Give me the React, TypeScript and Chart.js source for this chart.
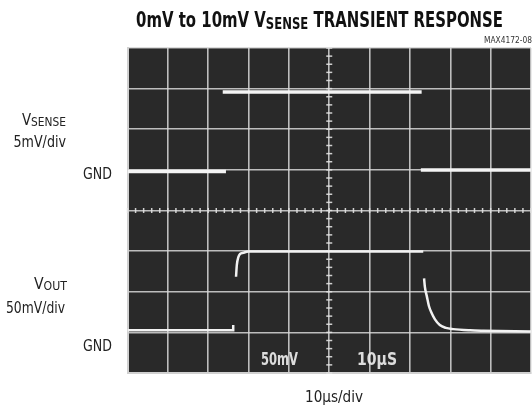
import React, { useEffect, useRef } from 'react';
import { Chart, registerables } from 'chart.js';

Chart.register(...registerables);

// ---- data (x in µs, y in screen divisions, centre = 0) ----
const xTicksUs = [0, 10, 20, 30, 40, 50, 60, 70, 80, 90, 100];
const yDivs = [-4, -3, -2, -1, 0, 1, 2, 3, 4];

const vsenseTime = [0, 24.4, 24.0, 23.6, 72.9, 72.8, 72.7, 100];
const vsenseValue = [0.96, 0.96, null, 2.92, 2.92, null, 1.0, 1.0];

const voutTime = [0, 26.2, 26.2, 26.5, 26.9, 27.1, 27.5, 27.9, 28.7, 30, 73.3, 73.4, 73.5, 73.7, 74.2, 74.7, 75.4, 76.2, 77.4, 78.9, 80.7, 84.9, 88.1, 100];
const voutValue = [-2.95, -2.95, -2.82, null, -1.63, -1.34, -1.14, -1.07, -1.04, -1.01, -1.01, null, -1.67, -1.88, -2.12, -2.35, -2.53, -2.68, -2.82, -2.89, -2.92, -2.95, -2.96, -2.98];

const titleParts = ['0mV to 10mV V', 'SENSE', ' TRANSIENT RESPONSE'];
const figureCode = 'MAX4172-08';
const vsenseLabel = ['V', 'SENSE'];
const vsenseScale = '5mV/div';
const voutLabel = ['V', 'OUT'];
const voutScale = '50mV/div';
const gndLabel = 'GND';
const timeLabel = '10µs/div';
const scopeTexts = ['50mV', '10µS'];

const FONT = "'DejaVu Sans Condensed', 'Liberation Sans', sans-serif";

function toPoints(xs: number[], ys: (number | null)[]) {
  return xs.map((x, i) => ({ x, y: ys[i] }));
}

type Part = { t: string; size: number; dy?: number };

// draws text runs horizontally fitted between left and right edges
function drawFitted(ctx: CanvasRenderingContext2D, parts: Part[], left: number, right: number, baseline: number, weight: string) {
  let total = 0;
  const widths: number[] = [];
  for (const p of parts) {
    ctx.font = `${weight} ${p.size}px ${FONT}`;
    const w = ctx.measureText(p.t).width;
    widths.push(w);
    total += w;
  }
  const k = (right - left) / total;
  ctx.save();
  ctx.translate(left, baseline);
  ctx.scale(k, 1);
  ctx.textAlign = 'left';
  ctx.textBaseline = 'alphabetic';
  let x = 0;
  parts.forEach((p, i) => {
    ctx.font = `${weight} ${p.size}px ${FONT}`;
    ctx.fillText(p.t, x, p.dy || 0);
    x += widths[i];
  });
  ctx.restore();
}

const scopePlugin = {
  id: 'scopeDecor',
  beforeDraw(chart: any) {
    const { ctx, chartArea: a } = chart;
    ctx.save();
    ctx.fillStyle = '#ffffff';
    ctx.fillRect(0, 0, chart.width, chart.height);
    ctx.fillStyle = '#292929';
    ctx.fillRect(a.left, a.top, a.right - a.left, a.bottom - a.top);
    ctx.restore();
  },
  beforeDatasetsDraw(chart: any) {
    const { ctx, scales } = chart;
    const xs = scales.x;
    const ys = scales.y;
    const x0 = xs.getPixelForValue(50);
    const y0 = ys.getPixelForValue(0);
    ctx.save();
    ctx.strokeStyle = 'rgba(225,225,225,0.9)';
    ctx.lineWidth = 1.5;
    for (let v = 0; v <= 100; v += 2) {
      const px = xs.getPixelForValue(v);
      ctx.beginPath();
      ctx.moveTo(px, y0 - 2.5);
      ctx.lineTo(px, y0 + 2.5);
      ctx.stroke();
    }
    for (let v = -4; v <= 4.001; v += 0.2) {
      const py = ys.getPixelForValue(v);
      ctx.beginPath();
      ctx.moveTo(x0 - 3, py);
      ctx.lineTo(x0 + 3, py);
      ctx.stroke();
    }
    ctx.restore();
  },
  afterDraw(chart: any) {
    const { ctx } = chart;
    ctx.save();
    ctx.fillStyle = '#111111';
    // title
    drawFitted(ctx, [{ t: titleParts[0], size: 20.5 }, { t: titleParts[1], size: 16, dy: 2 }, { t: titleParts[2], size: 20.5 }], 136, 503, 26.5, 'bold');
    // figure code
    ctx.fillStyle = '#333333';
    drawFitted(ctx, [{ t: figureCode, size: 8.5 }], 484, 532, 43, 'normal');
    ctx.fillStyle = '#222222';
    // left labels
    drawFitted(ctx, [{ t: vsenseLabel[0], size: 15 }, { t: vsenseLabel[1], size: 12, dy: 1.5 }], 22, 66, 124.5, 'normal');
    drawFitted(ctx, [{ t: vsenseScale, size: 15.5 }], 13.5, 66, 146.5, 'normal');
    drawFitted(ctx, [{ t: gndLabel, size: 16.5 }], 83, 112, 178.5, 'normal');
    drawFitted(ctx, [{ t: voutLabel[0], size: 16 }, { t: voutLabel[1], size: 12.5, dy: 1 }], 34, 67, 288.5, 'normal');
    drawFitted(ctx, [{ t: voutScale, size: 16 }], 6, 65, 313, 'normal');
    drawFitted(ctx, [{ t: gndLabel, size: 16.5 }], 83, 112, 351, 'normal');
    // x label
    drawFitted(ctx, [{ t: timeLabel, size: 16 }], 305, 363, 401.5, 'normal');
    // scope on-screen text
    ctx.fillStyle = 'rgba(235,235,235,0.92)';
    drawFitted(ctx, [{ t: scopeTexts[0], size: 18 }], 261, 298, 364.5, 'bold');
    drawFitted(ctx, [{ t: scopeTexts[1], size: 18 }], 357, 397, 364.5, 'bold');
    ctx.restore();
  },
};

export default function App() {
  const ref = useRef<HTMLCanvasElement | null>(null);
  useEffect(() => {
    if (!ref.current) return;
    const chart = new Chart(ref.current, {
      type: 'line',
      data: {
        datasets: [
          {
            data: toPoints(vsenseTime, vsenseValue),
            borderColor: '#f4f4f4',
            borderWidth: 3.5,
            pointRadius: 0,
            spanGaps: false,
            tension: 0,
          },
          {
            data: toPoints(voutTime, voutValue),
            borderColor: '#f2f2f2',
            borderWidth: 2.5,
            pointRadius: 0,
            spanGaps: false,
            cubicInterpolationMode: 'monotone',
          },
        ],
      },
      options: {
        animation: false,
        responsive: true,
        maintainAspectRatio: false,
        layout: { padding: { left: 127.5, right: 1, top: 48, bottom: 37 } },
        plugins: { legend: { display: false }, tooltip: { enabled: false }, title: { display: false } },
        events: [],
        scales: {
          x: {
            type: 'linear',
            min: xTicksUs[0],
            max: xTicksUs[xTicksUs.length - 1],
            afterBuildTicks: (s: any) => { s.ticks = xTicksUs.map((v) => ({ value: v })); },
            ticks: { display: false },
            grid: { color: 'rgba(215,215,215,0.85)', lineWidth: 1.6, drawTicks: false },
            border: { display: true, color: '#d0d0d0', width: 2 },
          },
          y: {
            type: 'linear',
            min: yDivs[0],
            max: yDivs[yDivs.length - 1],
            afterBuildTicks: (s: any) => { s.ticks = yDivs.map((v) => ({ value: v })); },
            ticks: { display: false },
            grid: { color: 'rgba(215,215,215,0.85)', lineWidth: 1.6, drawTicks: false },
            border: { display: true, color: '#d0d0d0', width: 2 },
          },
        },
      },
      plugins: [scopePlugin],
    } as any);
    return () => chart.destroy();
  }, []);
  return (
    <div style={{ position: 'fixed', left: 0, top: 0, width: 532, height: 410 }}>
      <canvas ref={ref} />
    </div>
  );
}
